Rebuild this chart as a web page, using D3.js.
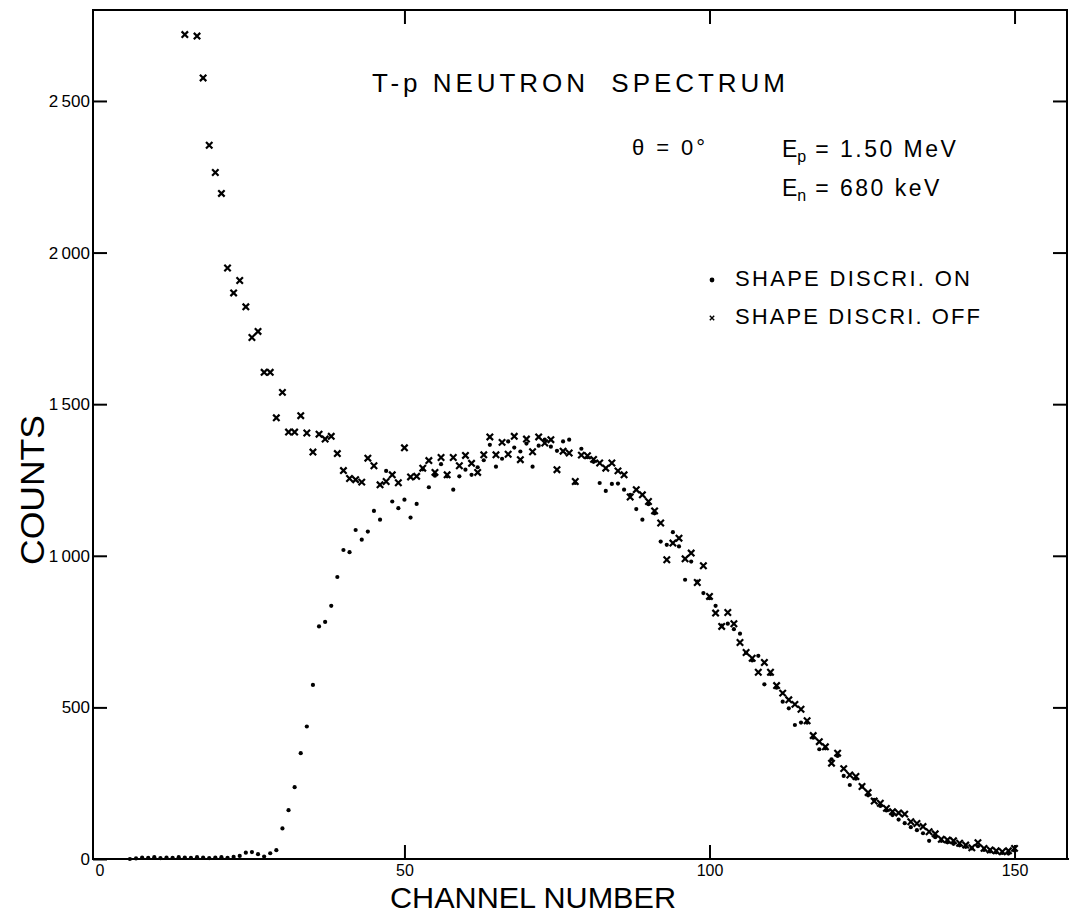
<!DOCTYPE html>
<html>
<head>
<meta charset="utf-8">
<script src="https://cdn.jsdelivr.net/npm/d3@7"></script>
<style>
  body { margin: 0; background: #fff; }
  svg { display: block; font-family: 'Liberation Sans', Arial, sans-serif; }
  text { white-space: pre; }
</style>
</head>
<body>
<svg id="chart" width="1069" height="915"></svg>
<script>
// channel ticks / count ticks
const xTicks = [0, 50, 100, 150];
const yTicks = [0, 500, 1000, 1500, 2000, 2500];

// shape discrimination OFF (crosses), channels starting at offStart
const offStart = 14;
const offCounts = [
  2719, null, 2714, 2576, 2354, 2264, 2195, 1949, 1867, 1908,
  1821, 1720, 1740, 1605, 1605, 1455, 1539, 1408, 1408, 1462,
  1405, 1342, 1401, 1385, 1394, 1337, 1281, 1255, 1251, 1243,
  1322, 1297, 1234, 1245, 1267, 1241, 1356, 1260, 1262, 1289,
  1314, 1275, 1324, 1267, 1324, 1297, 1331, 1305, 1275, 1333,
  1392, 1333, 1374, 1335, 1394, 1317, 1385, 1343, 1392, 1372,
  1383, 1284, 1345, 1339, 1245, 1332, 1330, 1318, 1306, 1289,
  1306, 1280, 1267, 1194, 1218, 1201, 1179, 1148, 1108, 987,
  1042, 1058, 990, 1009, 912, 967, 866, 811, 767, 813,
  776, 714, 681, 662, 616, 648, 616, 572, 547, 525,
  510, 494, 456, 407, 387, 370, 316, 349, 298, 277,
  272, 239, 219, 191, 184, 167, 156, 152, 148, 123,
  117, 107, 90, 83, 65, 63, 60, 52, 46, 37,
  54, 35, 30, 27, 24, 27, 35
];

// shape discrimination ON (dots), channels starting at onStart
const onStart = 5;
const onCounts = [
  0, 2, 5, 4, 6, 3, 5, 4, 6, 5, 4, 6, 5, 3, 5, 6, 4, 7,
  10, 21, 23, 16, 8, 19, 29, 101, 161, 237,
  349, 437, 574, 767, 782, 835, 930, 1019, 1012, 1085,
  1053, 1080, 1148, 1119, 1280, 1179, 1157, 1185, 1126, 1171,
  1285, 1226, 1264, 1302, 1262, 1218, 1262, 1284, 1267, 1292,
  1315, 1366, 1294, 1320, 1377, 1357, 1344, 1370, 1294, 1363,
  1383, 1360, 1346, 1377, 1383, 1240, 1353, 1325, 1310, 1240,
  1214, 1237, 1238, 1218, 1201, 1154, 1119, 1170, 1140, 1047,
  1036, 1078, 1031, 921, 981, 915, 877, 860, 835, 770,
  776, 758, 743, 680, 655, 670, 576, 610, 565, 519,
  497, 442, 450, 450, 400, 362, 365, 329, 340, 274,
  244, 265, 239, 210, 195, 175, 160, 145, 130, 118,
  105, 95, 85, 60, 72, 60, 55, 50, 45, 40,
  35, 42, 30, 25, 22, 20, 18, 28
];

const legendLabels = ['SHAPE DISCRI. ON', 'SHAPE DISCRI. OFF'];

const svg = d3.select('#chart');

const x = d3.scaleLinear().domain([-1.05, 158.6]).range([93, 1067]);
const y = d3.scaleLinear().domain([0, 2800]).range([859, 10]);

const fmt = d => d >= 1000 ? d3.format(',')(d).replace(',', '\u2009') : String(d);

const toPoints = (start, arr) => arr
  .map((c, i) => ({ ch: start + i, c }))
  .filter(d => d.c != null);

const offPts = toPoints(offStart, offCounts);
const onPts = toPoints(onStart, onCounts);

// frame
svg.append('rect')
  .attr('x', x.range()[0])
  .attr('y', y.range()[1])
  .attr('width', x.range()[1] - x.range()[0])
  .attr('height', y.range()[0] - y.range()[1])
  .attr('fill', 'none')
  .attr('stroke', '#000')
  .attr('stroke-width', 2);

svg.append('line')
  .attr('x1', x.range()[1]).attr('x2', 1069)
  .attr('y1', y(0)).attr('y2', y(0))
  .attr('stroke', '#000').attr('stroke-width', 2);

const styleAxis = g => {
  g.select('.domain').remove();
  g.selectAll('.tick line').attr('stroke', '#000').attr('stroke-width', 2);
  g.selectAll('.tick text')
    .attr('fill', '#000')
    .attr('font-size', 17)
    .attr('font-family', "'Liberation Sans', Arial, sans-serif");
};

svg.append('g')
  .attr('transform', `translate(${x.range()[0]},0)`)
  .call(d3.axisLeft(y).tickValues(yTicks).tickSize(-14).tickPadding(3).tickFormat(fmt))
  .call(styleAxis);

svg.append('g')
  .attr('transform', `translate(0,${y(0)})`)
  .call(d3.axisBottom(x).tickValues(xTicks).tickSize(-14).tickPadding(6))
  .call(styleAxis)
  .call(g => g.selectAll('.tick text').attr('font-size', 16))
  .call(g => g.selectAll('.tick').filter(d => d === 0).select('line').remove());

svg.append('g')
  .attr('transform', `translate(0,${y.range()[1]})`)
  .call(d3.axisTop(x).tickValues(xTicks.slice(1)).tickSize(-14).tickFormat(''))
  .call(styleAxis);

svg.append('g')
  .attr('transform', `translate(${x.range()[1]},0)`)
  .call(d3.axisRight(y).tickValues(yTicks.slice(1)).tickSize(-14).tickFormat(''))
  .call(styleAxis);

// axis titles
svg.append('text')
  .attr('x', 390)
  .attr('y', 908)
  .attr('font-size', 29)
  .attr('textLength', 286)
  .attr('lengthAdjust', 'spacingAndGlyphs')
  .text('CHANNEL NUMBER');

svg.append('text')
  .attr('transform', 'translate(44,490) rotate(-90)')
  .attr('text-anchor', 'middle')
  .attr('font-size', 33)
  .attr('textLength', 150)
  .attr('lengthAdjust', 'spacingAndGlyphs')
  .text('COUNTS');

// data
const cross = 'M-3.2,-3.2L3.2,3.2M-3.2,3.2L3.2,-3.2';

svg.append('g')
  .selectAll('path')
  .data(offPts)
  .join('path')
  .attr('d', cross)
  .attr('transform', d => `translate(${x(d.ch)},${y(d.c)})`)
  .attr('stroke', '#000')
  .attr('stroke-width', 2.2)
  .attr('fill', 'none');

svg.append('g')
  .selectAll('circle')
  .data(onPts)
  .join('circle')
  .attr('cx', d => x(d.ch))
  .attr('cy', d => y(d.c))
  .attr('r', 2.1)
  .attr('fill', '#000');

// title and annotations
svg.append('text')
  .attr('x', 372)
  .attr('y', 92)
  .attr('font-size', 26)
  .attr('textLength', 413)
  .attr('lengthAdjust', 'spacing')
  .text('T-p NEUTRON  SPECTRUM');

svg.append('text')
  .attr('x', 632)
  .attr('y', 155)
  .attr('font-size', 22)
  .attr('textLength', 73)
  .attr('lengthAdjust', 'spacing')
  .text('\u03B8 = 0\u00B0');

const energy = [
  { sub: 'p', rest: ' = 1.50 MeV', y: 157 },
  { sub: 'n', rest: ' = 680 keV', y: 196 }
];

energy.forEach(e => {
  const t = svg.append('text')
    .attr('x', 782)
    .attr('y', e.y)
    .attr('font-size', 23);
  t.append('tspan').text('E');
  t.append('tspan').attr('font-size', 16).attr('dy', 5).text(e.sub);
  t.append('tspan').attr('dy', -5).attr('letter-spacing', 2.5).text(e.rest);
});

// legend
const legend = svg.append('g');
legend.append('circle')
  .attr('cx', 712).attr('cy', 280).attr('r', 2.4).attr('fill', '#000');
legend.append('path')
  .attr('d', 'M-2.2,-2.2L2.2,2.2M-2.2,2.2L2.2,-2.2')
  .attr('transform', 'translate(712,318)')
  .attr('stroke', '#000').attr('stroke-width', 1.4);

legend.selectAll('text')
  .data(legendLabels)
  .join('text')
  .attr('x', 735)
  .attr('y', (d, i) => 286 + i * 38)
  .attr('font-size', 22)
  .attr('textLength', (d, i) => i === 0 ? 235 : 245)
  .attr('lengthAdjust', 'spacing')
  .text(d => d);
</script>
</body>
</html>
